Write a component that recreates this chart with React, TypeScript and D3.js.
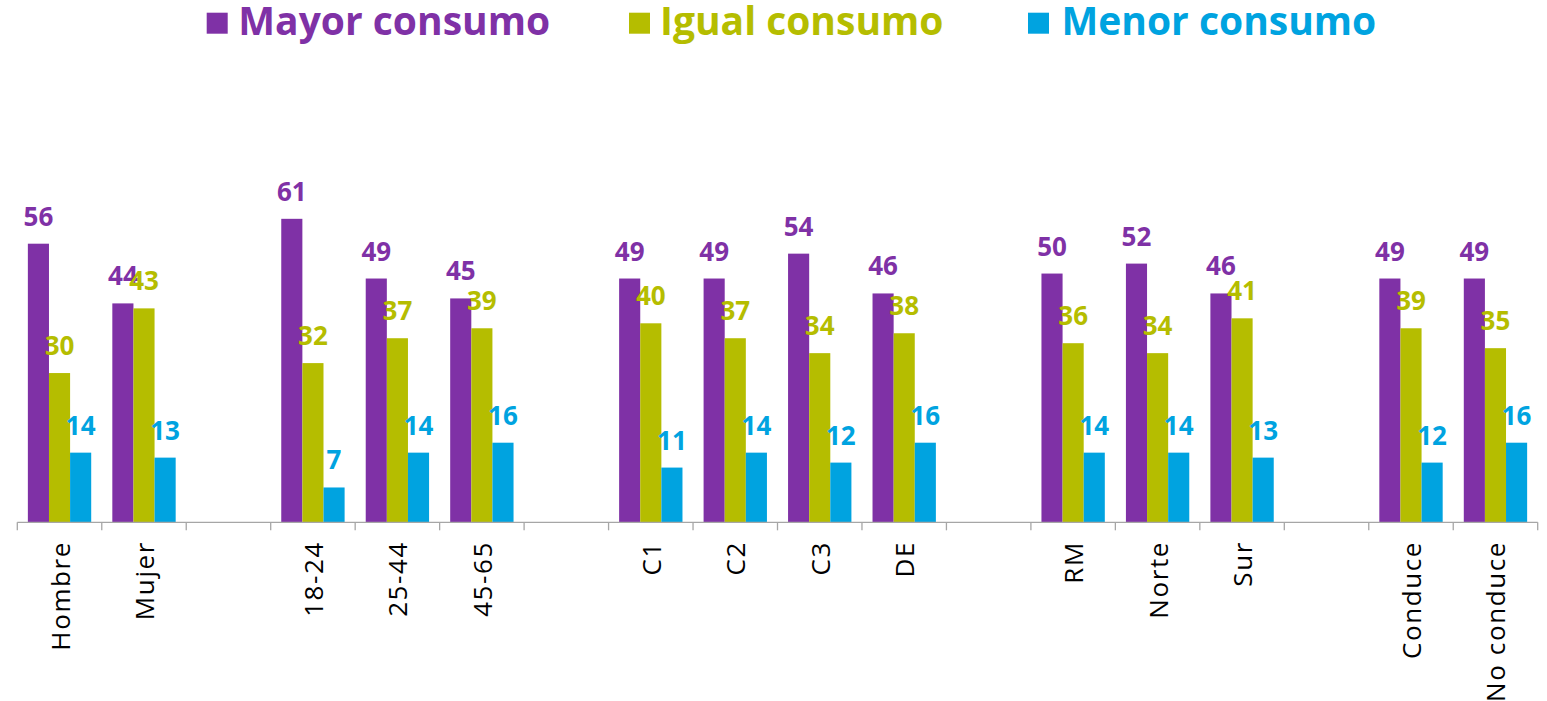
import React from "react";
import * as d3 from "d3";

const categories = ["Hombre", "Mujer", "", "18-24", "25-44", "45-65", "", "C1", "C2", "C3", "DE", "", "RM", "Norte", "Sur", "", "Conduce", "No conduce"];
const seriesNames = ["Mayor consumo", "Igual consumo", "Menor consumo"];
const mayor = [56, 44, null, 61, 49, 45, null, 49, 49, 54, 46, null, 50, 52, 46, null, 49, 49];
const igual = [30, 43, null, 32, 37, 39, null, 40, 37, 34, 38, null, 36, 34, 41, null, 39, 35];
const menor = [14, 13, null, 7, 14, 16, null, 11, 14, 12, 16, null, 14, 14, 13, null, 12, 16];
const colors = ["#7F31A6", "#B5BD00", "#00A3E0"];

const W = 1547;
const H = 701;
const FONT = "'Open Sans', 'DejaVu Sans', sans-serif";

export default function App() {
  const slotKeys = categories.map((_, i) => String(i));
  const x = d3.scaleBand<string>().domain(slotKeys).range([17.3, 1537.7]).paddingInner(0).paddingOuter(0);
  const inner = d3.scaleBand<string>().domain(seriesNames).range([0, x.bandwidth()]).paddingInner(0).paddingOuter(0.5);
  const y = d3.scaleLinear().domain([0, 70]).range([522.3, 522.3 - 70 * 4.975]);
  const data = [mayor, igual, menor];
  const baseY = y(0);

  const legendItems = [
    { sq: 206.7, tx: 238.3 },
    { sq: 629, tx: 660 },
    { sq: 1028, tx: 1061.5 },
  ];

  return (
    <svg width={W} height={H} style={{ position: "absolute", left: 0, top: 0, background: "#fff" }}>
      {/* legend */}
      {seriesNames.map((s, i) => (
        <g key={s}>
          <rect x={legendItems[i].sq} y={12.7} width={21} height={21} fill={colors[i]} />
          <text x={legendItems[i].tx} y={35} fill={colors[i]} fontFamily={FONT} fontWeight={700} fontSize={39}>
            {s}
          </text>
        </g>
      ))}
      {/* bars */}
      {categories.map((c, ci) =>
        data.map((arr, si) => {
          const v = arr[ci];
          if (v == null) return null;
          const bx = (x(String(ci)) as number) + (inner(seriesNames[si]) as number);
          const bw = inner.bandwidth();
          return <rect key={`${ci}-${si}`} x={bx} y={y(v)} width={bw} height={baseY - y(v)} fill={colors[si]} />;
        })
      )}
      {/* value labels */}
      {categories.map((c, ci) =>
        data.map((arr, si) => {
          const v = arr[ci];
          if (v == null) return null;
          const bx = (x(String(ci)) as number) + (inner(seriesNames[si]) as number) + inner.bandwidth() / 2;
          return (
            <text key={`l${ci}-${si}`} x={bx} y={y(v) - 18} textAnchor="middle" fill={colors[si]} fontFamily={FONT} fontWeight={700} fontSize={26}>
              {v}
            </text>
          );
        })
      )}
      {/* axis */}
      <line x1={x.range()[0]} x2={x.range()[1]} y1={baseY} y2={baseY} stroke="#A6A6A6" strokeWidth={1.3} />
      {d3.range(categories.length + 1).map((i) => {
        const tx = x.range()[0] + i * x.step();
        return <line key={`t${i}`} x1={tx} x2={tx} y1={baseY} y2={baseY + 8} stroke="#A6A6A6" strokeWidth={1.3} />;
      })}
      {categories.map((c, ci) => {
        if (!c) return null;
        const cx = (x(String(ci)) as number) + x.bandwidth() / 2;
        return (
          <text key={`c${ci}`} transform={`translate(${cx},541) rotate(-90)`} textAnchor="end" dominantBaseline="central" fill="#000" fontFamily={FONT} fontWeight={400} fontSize={26} letterSpacing={1.6}>
            {c}
          </text>
        );
      })}
    </svg>
  );
}
